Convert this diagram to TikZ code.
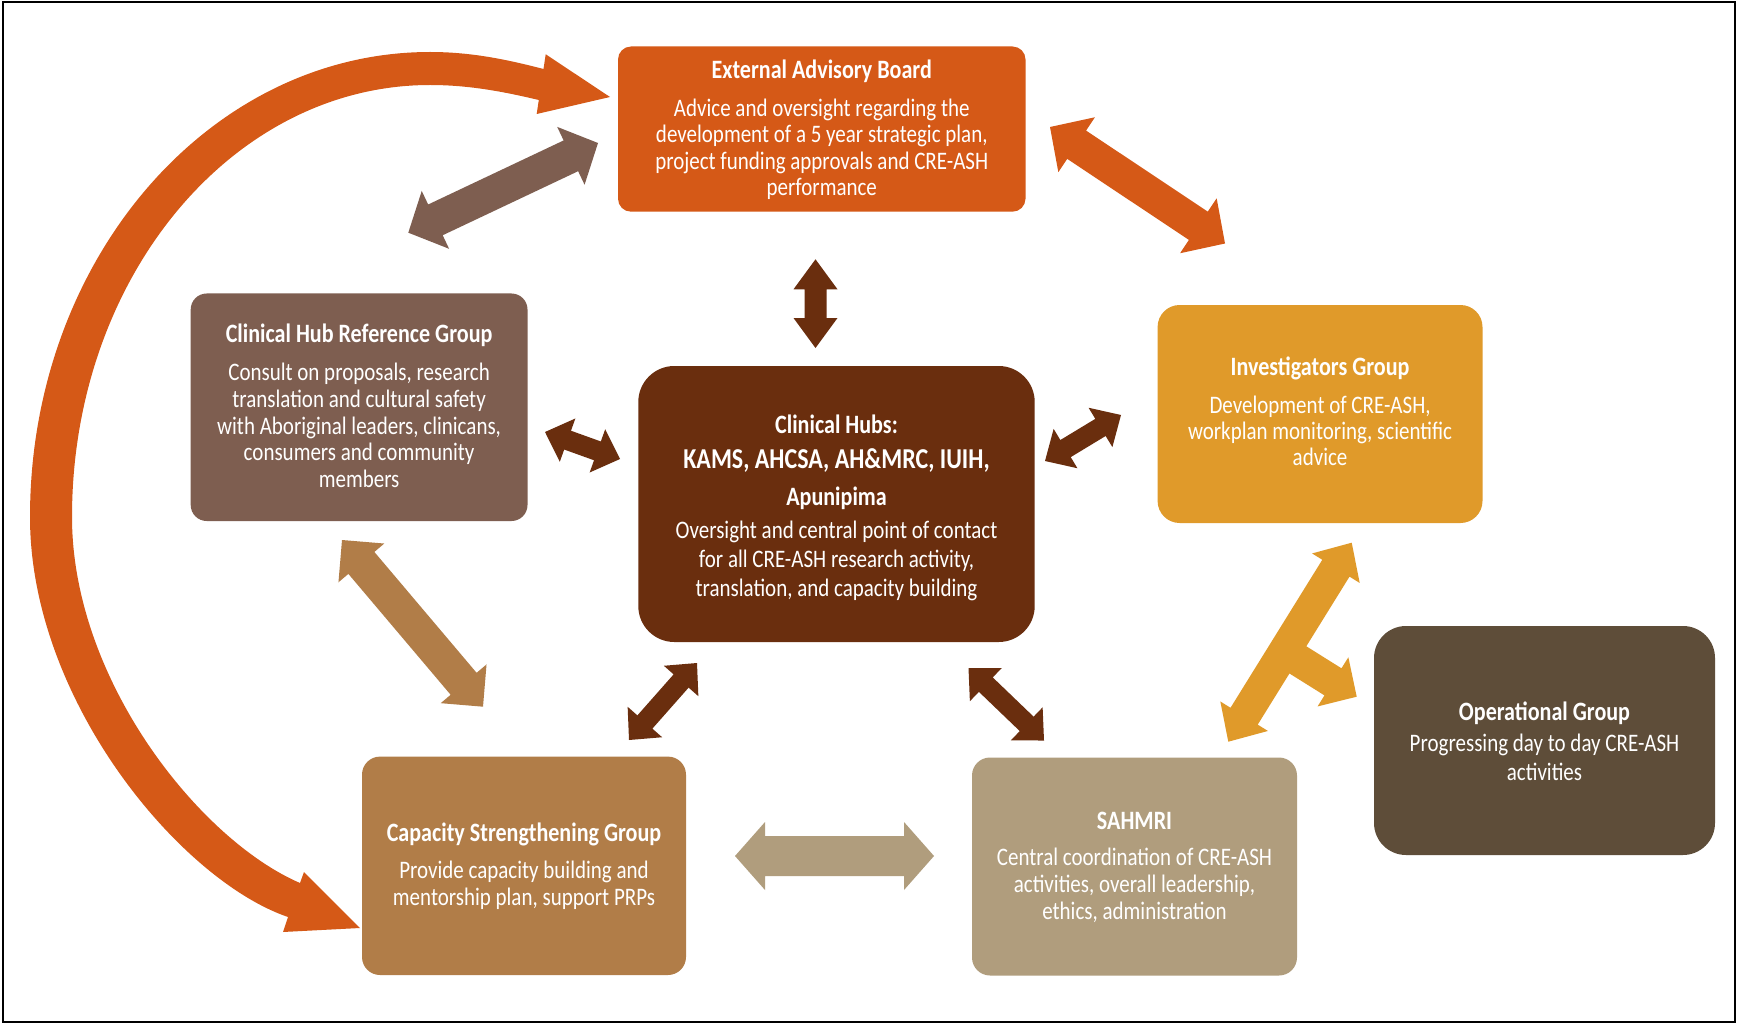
\documentclass[tikz,border=0pt]{standalone}
\usepackage{fontspec}
\setmainfont{Carlito}[FakeStretch=0.833]
\usetikzlibrary{calc}

\definecolor{advisory}{RGB}{213,89,23}
\definecolor{refgroup}{RGB}{126,94,80}
\definecolor{hubs}{RGB}{106,46,14}
\definecolor{investig}{RGB}{224,154,42}
\definecolor{operat}{RGB}{94,77,57}
\definecolor{capacity}{RGB}{177,125,72}
\definecolor{sahmri}{RGB}{176,157,125}

% tall, narrow lettering
\newcommand\bodysize[1]{\fontsize{25.2}{#1}\selectfont}
\newcommand\ttl[1]{{\fontsize{26.5}{26.5}\selectfont\bfseries #1}}

% double-headed block arrow: colour, tip, other tip, half shaft, half head, head length
\newcommand\twoheads[6]{%
  \fill[#1] (#2)
    -- ($(#2)!#6!(#3)!#5!90:(#3)$)
    -- ($(#2)!#6!(#3)!#4!90:(#3)$)
    -- ($(#3)!#6!(#2)!#4!-90:(#2)$)
    -- ($(#3)!#6!(#2)!#5!-90:(#2)$)
    -- (#3)
    -- ($(#3)!#6!(#2)!#5!90:(#2)$)
    -- ($(#3)!#6!(#2)!#4!90:(#2)$)
    -- ($(#2)!#6!(#3)!#4!-90:(#3)$)
    -- ($(#2)!#6!(#3)!#5!-90:(#3)$)
    -- cycle;}
% single-headed block arrow: colour, tail, tip, half shaft, half head, head length
\newcommand\onehead[6]{%
  \fill[#1] ($(#2)!#4!90:(#3)$)
    -- ($(#3)!#6!(#2)!#4!-90:(#2)$)
    -- ($(#3)!#6!(#2)!#5!-90:(#2)$)
    -- (#3)
    -- ($(#3)!#6!(#2)!#5!90:(#2)$)
    -- ($(#3)!#6!(#2)!#4!90:(#2)$)
    -- ($(#2)!#4!-90:(#3)$)
    -- cycle;}

\begin{document}
\begin{tikzpicture}[x=1pt,y=-1pt,
  box/.style={rectangle, draw=none, inner sep=0pt, outer sep=0pt},
  txt/.style={text=white, align=center, inner sep=0pt, anchor=north}]
\useasboundingbox (0,0) rectangle (1737,1024);
\fill[white] (0,0) rectangle (1737,1024);
\draw[line width=2pt] (2.5,2.5) rectangle (1734.5,1021.5);

% ---- boxes
\node[box, fill=advisory, rounded corners=13pt, minimum width=407.5pt, minimum height=165.2pt] (eab) at (821.75,129.1) {};
\node[box, fill=refgroup, rounded corners=16pt, minimum width=336.8pt, minimum height=227.5pt] (chrg) at (359.1,407.25) {};
\node[box, fill=hubs, rounded corners=36pt, minimum width=396.4pt, minimum height=276pt] (hub) at (836.5,504) {};
\node[box, fill=investig, rounded corners=22pt, minimum width=324.9pt, minimum height=218pt] (inv) at (1320.05,414) {};
\node[box, fill=operat, rounded corners=32pt, minimum width=341pt, minimum height=229pt] (op) at (1544.5,740.5) {};
\node[box, fill=capacity, rounded corners=18pt, minimum width=324pt, minimum height=218.4pt] (csg) at (524,865.8) {};
\node[box, fill=sahmri, rounded corners=18pt, minimum width=325pt, minimum height=218pt] (sah) at (1134.5,866.5) {};

% ---- texts
\node[txt, font=\bodysize{26.5}] (eabt) at (821.75,58.6)
  {\rule{0pt}{20pt}\ttl{External Advisory Board}\\[11.1pt]
   Advice and oversight regarding the\\
   development of a 5 year strategic plan,\\
   project funding approvals and CRE-ASH\\
   performance};
\node[txt, font=\bodysize{26.8}] (chrgt) at (359.1,322.6)
  {\rule{0pt}{20pt}\ttl{Clinical Hub Reference Group}\\[10.9pt]
   Consult on proposals, research\\
   translation and cultural safety\\
   with Aboriginal leaders, clinicans,\\
   consumers and community\\
   members};
\node[txt, font=\bodysize{29.4}] (hubt) at (836.5,413.1)
  {\rule{0pt}{20pt}\ttl{Clinical Hubs:}\\[5.7pt]
   {\fontsize{28.8}{29.4}\selectfont\bfseries KAMS, AHCSA, AH\&MRC, IUIH,}\\[7.6pt]
   \ttl{Apunipima}\\[3.2pt]
   Oversight and central point of contact\\
   for all CRE-ASH research activity,\\
   translation, and capacity building};
\node[txt, font=\bodysize{26.2}] (invt) at (1320.05,355.3)
  {\rule{0pt}{20pt}\ttl{Investigators Group}\\[11.7pt]
   Development of CRE-ASH,\\
   workplan monitoring, scientific\\
   advice};
\node[txt, font=\bodysize{28.8}] (opt) at (1544.5,699.8)
  {\rule{0pt}{20pt}\ttl{Operational Group}\\[2.5pt]
   Progressing day to day CRE-ASH\\
   activities};
\node[txt, font=\bodysize{27.1}] (csgt) at (524,821.3)
  {\rule{0pt}{20pt}\ttl{Capacity Strengthening Group}\\[9.5pt]
   Provide capacity building and\\
   mentorship plan, support PRPs};
\node[txt, font=\bodysize{27.3}] (saht) at (1134.5,809.1)
  {\rule{0pt}{20pt}\ttl{SAHMRI}\\[8.7pt]
   Central coordination of CRE-ASH\\
   activities, overall leadership,\\
   ethics, administration};

% ---- connector end points
\coordinate (a1) at (408.3,232.7);  \coordinate (a2) at (598,143);
\coordinate (b1) at (1050,127);     \coordinate (b2) at (1225,243.5);
\coordinate (c1) at (815.5,259.3);  \coordinate (c2) at (815.5,348);
\coordinate (d1) at (545,432);      \coordinate (d2) at (620,459);
\coordinate (e1) at (697,663);      \coordinate (e2) at (629,740);
\coordinate (f1) at (968.5,668);    \coordinate (f2) at (1044,740.5);
\coordinate (g1) at (1045,461);     \coordinate (g2) at (1121,415);
\coordinate (h1) at (342,540);      \coordinate (h2) at (483,706.7);
\coordinate (i1) at (735,856);      \coordinate (i2) at (934,856);
\coordinate (t1) at (1351.7,542.7); \coordinate (t2) at (1228.3,741.7);
\coordinate (tb) at (1284.5,651.5); \coordinate (t3) at (1356.7,696.7);

% ---- straight connectors
\twoheads{refgroup}{a1}{a2}{17pt}{32pt}{30pt}
\twoheads{advisory}{b1}{b2}{17pt}{33pt}{32pt}
\twoheads{hubs}{c1}{c2}{11pt}{22pt}{30pt}
\twoheads{hubs}{d1}{d2}{10pt}{23pt}{24pt}
\twoheads{hubs}{e1}{e2}{10pt}{23pt}{24pt}
\twoheads{hubs}{f1}{f2}{10pt}{23pt}{24pt}
\twoheads{hubs}{g1}{g2}{10pt}{23pt}{24pt}
\twoheads{capacity}{h1}{h2}{17pt}{30pt}{30pt}
\twoheads{sahmri}{i1}{i2}{20pt}{34pt}{30pt}
\twoheads{investig}{t1}{t2}{16pt}{28pt}{30pt}
\onehead{investig}{tb}{t3}{16pt}{29pt}{28pt}

% ---- long curved connector from the advisory board round to capacity strengthening
\coordinate (k1) at (610,97);
\coordinate (k2) at (360,928);
\fill[advisory] (k1) -- (545.7,54.3) -- (543.5,69)
  .. controls (505,59) and (470,52) .. (430,52)
  .. controls (209,52) and (30,260) .. (30,517)
  .. controls (30,700) and (180,880) .. (288,917)
  -- (283,932) -- (k2) -- (304,872) -- (300,883)
  .. controls (200,840) and (72,680) .. (72,517)
  .. controls (72,278) and (232,85) .. (430,85)
  .. controls (470,85) and (505,92) .. (538.8,100)
  -- (536.7,114) -- cycle;
\end{tikzpicture}
\end{document}
